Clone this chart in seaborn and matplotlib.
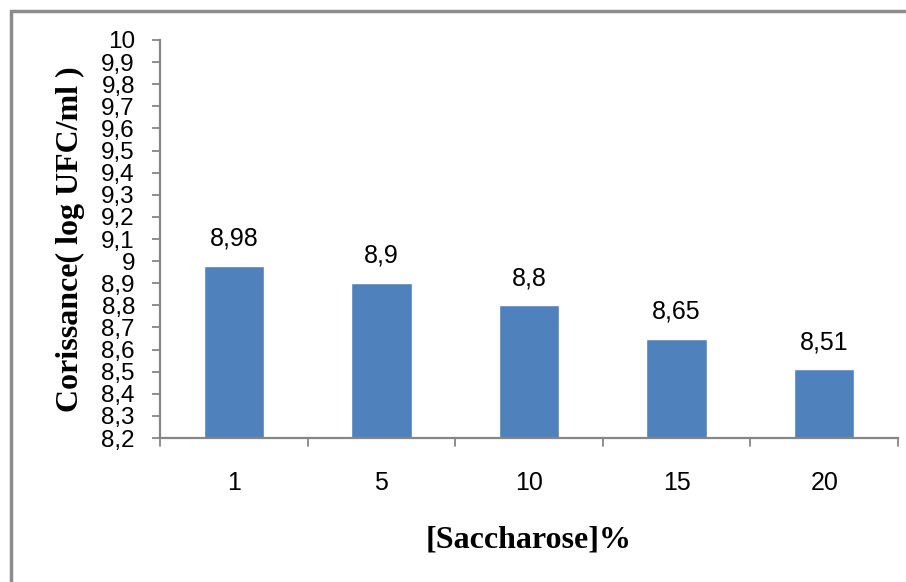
import matplotlib
matplotlib.use("Agg")
import matplotlib.pyplot as plt
from matplotlib.patches import Rectangle
import seaborn as sns
import pandas as pd
import numpy as np

# Data
saccharose = ["1", "5", "10", "15", "20"]
croissance = [8.98, 8.9, 8.8, 8.65, 8.51]
y_ticks = [8.2, 8.3, 8.4, 8.5, 8.6, 8.7, 8.8, 8.9, 9.0, 9.1, 9.2, 9.3, 9.4, 9.5, 9.6, 9.7, 9.8, 9.9, 10.0]

sns.set_theme(style="white")

tick_font = ["Liberation Sans", "DejaVu Sans"]
label_font = ["Liberation Serif", "DejaVu Serif"]


def fr(v):
    # decimal comma, as in French notation
    return f"{v:g}".replace(".", ",")


df = pd.DataFrame({"conc": saccharose, "val": croissance})

fig = plt.figure(figsize=(9.06, 5.82), dpi=100)
ax = fig.add_axes([160 / 906, 1 - 438 / 582, (898 - 160) / 906, (438 - 40) / 582])

bar_color = "#4F81BD"
axis_color = "#868686"

sns.barplot(data=df, x="conc", y="val", color=bar_color, width=0.41,
            saturation=1, ax=ax, bottom=0)
ax.set_ylim(8.2, 10.0)
ax.set_xlim(-0.5, len(saccharose) - 0.5)

ax.set_yticks(y_ticks)
ax.set_yticklabels([fr(v) for v in y_ticks], fontfamily=tick_font, fontsize=17.5, color="#000000")
ax.set_xticks(range(len(saccharose)))
ax.set_xticklabels(saccharose, fontfamily=tick_font, fontsize=18, color="#000000")
ax.tick_params(axis="x", length=0, pad=24)
ax.tick_params(axis="y", length=6, width=1.3, color=axis_color, pad=12, direction="out", left=True)

# category boundary ticks on the x axis
for b in np.arange(-0.5, len(saccharose), 1.0):
    ax.plot([b, b], [0, -0.02], transform=ax.get_xaxis_transform(), color=axis_color,
            lw=1.3, clip_on=False)

for side in ["top", "right"]:
    ax.spines[side].set_visible(False)
for side in ["left", "bottom"]:
    ax.spines[side].set_color(axis_color)
    ax.spines[side].set_linewidth(1.6)

ax.set_xlabel("[Saccharose]%", fontfamily=label_font, fontweight="bold", fontsize=23,
              labelpad=22, color="#000000")
ax.set_ylabel("Corissance( log UFC/ml )", fontfamily=label_font, fontweight="bold",
              fontsize=23, labelpad=12, color="#000000")

# value labels above each bar
for i, v in enumerate(croissance):
    ax.annotate(fr(v), (i, v), xytext=(0, 11), textcoords="offset points",
                ha="center", va="bottom", fontfamily=tick_font, fontsize=18, color="#000000")

# chart-area frame
fig.patches.append(Rectangle((11 / 906, -0.1), 1.2, 1 - 11 / 582 + 0.1,
                             transform=fig.transFigure, fill=False,
                             edgecolor="#8c8c8c", linewidth=2.5))

fig.savefig("out.png", dpi=100, facecolor="white")
